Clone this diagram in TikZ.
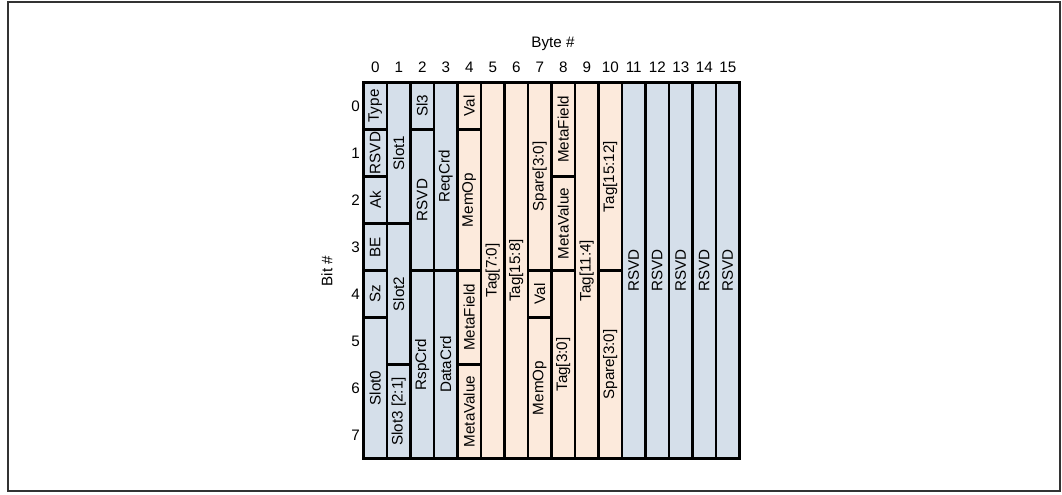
\documentclass[tikz,border=0pt]{standalone}
\usepackage{fontspec}
\setmainfont{Liberation Sans}
\definecolor{fblue}{HTML}{D5DFEA}
\definecolor{fpeach}{HTML}{FCEADC}
\definecolor{frame}{HTML}{333333}
\newcommand\fld[6]{%
  \node[fieldbox, fill=#5, minimum width={#4*35.25pt}] (#1)
    at ({363.5+23.5*(#2+0.5)}, {82.5+47*(#3+#4/2)}) {#6};%
}
\begin{document}
\begin{tikzpicture}[x=0.75pt,y=-0.75pt,
  fieldbox/.style={draw=black, line width=1.6pt, rotate=90, minimum height=17.625pt,
    inner sep=0pt, font=\fontsize{11.4}{13}\selectfont},
  lab/.style={font=\fontsize{11.4}{13}\selectfont, inner sep=0pt}]
\useasboundingbox (0,0) rectangle (1062,494);
\draw[frame, line width=1.5pt] (7.5,1.5) rectangle (1059.5,491);
% byte 0
\fld{t}{0}{0}{1}{fblue}{Type}
\fld{r0}{0}{1}{1}{fblue}{RSVD}
\fld{ak}{0}{2}{1}{fblue}{Ak}
\fld{be}{0}{3}{1}{fblue}{BE}
\fld{sz}{0}{4}{1}{fblue}{Sz}
\fld{s0}{0}{5}{3}{fblue}{Slot0}
% byte 1
\fld{s1}{1}{0}{3}{fblue}{Slot1}
\fld{s2}{1}{3}{3}{fblue}{Slot2}
\fld{s3}{1}{6}{2}{fblue}{Slot3 [2:1]}
% byte 2
\fld{sl3}{2}{0}{1}{fblue}{Sl3}
\fld{r2}{2}{1}{3}{fblue}{RSVD}
\fld{rsp}{2}{4}{4}{fblue}{RspCrd}
% byte 3
\fld{req}{3}{0}{4}{fblue}{ReqCrd}
\fld{dat}{3}{4}{4}{fblue}{DataCrd}
% byte 4
\fld{v4}{4}{0}{1}{fpeach}{Val}
\fld{m4}{4}{1}{3}{fpeach}{MemOp}
\fld{mf4}{4}{4}{2}{fpeach}{MetaField}
\fld{mv4}{4}{6}{2}{fpeach}{MetaValue}
% byte 5,6
\fld{tg5}{5}{0}{8}{fpeach}{Tag[7:0]}
\fld{tg6}{6}{0}{8}{fpeach}{Tag[15:8]}
% byte 7
\fld{sp7}{7}{0}{4}{fpeach}{Spare[3:0]}
\fld{v7}{7}{4}{1}{fpeach}{Val}
\fld{m7}{7}{5}{3}{fpeach}{MemOp}
% byte 8
\fld{mf8}{8}{0}{2}{fpeach}{MetaField}
\fld{mv8}{8}{2}{2}{fpeach}{MetaValue}
\fld{tg8}{8}{4}{4}{fpeach}{Tag[3:0]}
% byte 9, 10
\fld{tg9}{9}{0}{8}{fpeach}{Tag[11:4]}
\fld{tg10}{10}{0}{4}{fpeach}{Tag[15:12]}
\fld{sp10}{10}{4}{4}{fpeach}{Spare[3:0]}
% bytes 11-15
\foreach \c in {11,...,15}{\fld{rs\c}{\c}{0}{8}{fblue}{RSVD}}
% axis labels
\node[lab] (byte) at (553,44) {Byte \#};
\foreach \i in {0,...,15}{\node[lab] (bn\i) at ({363.5+23.5*(\i+0.5)},67) {\i};}
\foreach \i in {0,...,7}{\node[lab] (rn\i) at (355.5,{82.5+47*(\i+0.5)}) {\i};}
\node[lab, rotate=90] (bit) at (327,271) {Bit \#};
\end{tikzpicture}
\end{document}
